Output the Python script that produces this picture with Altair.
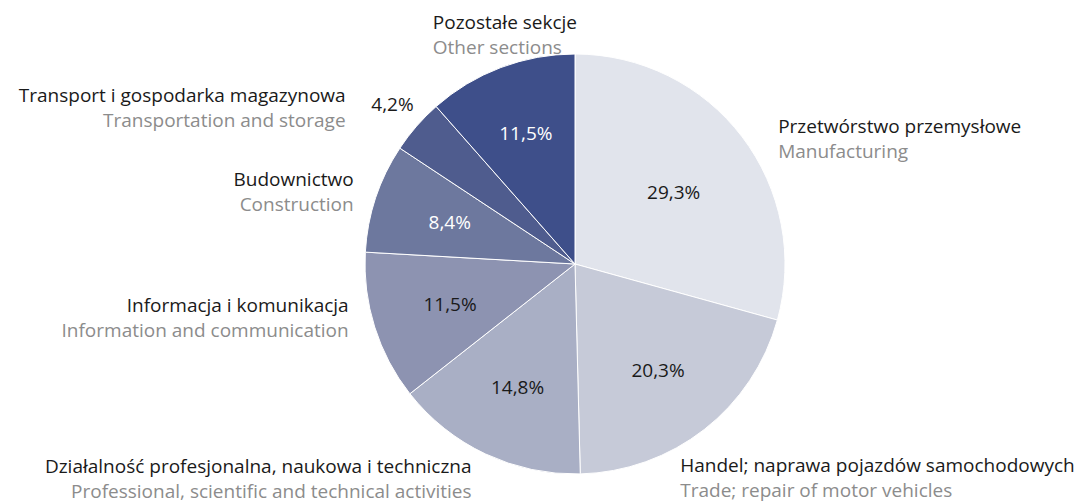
import math
import altair as alt
import pandas as pd

names_pl = ["Przetwórstwo przemysłowe", "Handel; naprawa pojazdów samochodowych",
            "Działalność profesjonalna, naukowa i techniczna", "Informacja i komunikacja",
            "Budownictwo", "Transport i gospodarka magazynowa", "Pozostałe sekcje"]
names_en = ["Manufacturing", "Trade; repair of motor vehicles",
            "Professional, scientific and technical activities", "Information and communication",
            "Construction", "Transportation and storage", "Other sections"]
shares = [29.3, 20.3, 14.8, 11.5, 8.4, 4.2, 11.5]
colors = ["#e1e4ec", "#c6cad8", "#a9afc5", "#8d93b1", "#6d789e", "#4f5c8e", "#3e4f8a"]

df = pd.DataFrame({
    "idx": list(range(len(shares))),
    "pl": names_pl,
    "en": names_en,
    "share": shares,
    "pct": [f"{v:.1f}".replace(".", ",") + "%" for v in shares],
})

FONT = "Open Sans"
FS = 19
CX, CY, R = 567, 256, 210

theta_scale = alt.Scale(domain=[0, 100], range=[0, 2 * math.pi])
color_scale = alt.Scale(domain=names_pl, range=colors)

base = alt.Chart(df).transform_window(
    end="sum(share)", sort=[alt.SortField("idx")], frame=[None, 0]
).transform_calculate(
    start="datum.end - datum.share", mid="datum.end - datum.share / 2"
)

pie = base.mark_arc(stroke="white", strokeWidth=1).encode(
    theta=alt.Theta("start:Q", scale=theta_scale),
    theta2="end:Q",
    color=alt.Color("pl:N", scale=color_scale, legend=None),
    x=alt.value(CX), y=alt.value(CY), radius=alt.value(R),
)

# label style: (radius, dx, dy, align) per slice index
name_pos = {
    0: (R, 36, 3, "left"),
    1: (R, -24, 49, "left"),
    2: (R, -14, 25, "right"),
    3: (R, -26, -9, "right"),
    4: (R, -22, -5, "right"),
    5: (R, -71, -18, "right"),
    6: (R, -68, -32, "left"),
}
# percent label style: (radius, dy, colour)
pct_pos = {
    0: (124, 4, "#1a1a1a"),
    1: (135, 1, "#1a1a1a"),
    2: (135, 2, "#1a1a1a"),
    3: (131, 2, "#1a1a1a"),
    4: (132, 1, "#ffffff"),
    5: (242, 0, "#1a1a1a"),
    6: (139, 0, "#ffffff"),
}

layers = [pie]
for i in range(len(shares)):
    r, dx, dy, align = name_pos[i]
    sub = base.transform_filter(alt.datum.idx == i)
    enc = dict(theta=alt.Theta("mid:Q", scale=theta_scale),
               x=alt.value(CX), y=alt.value(CY), radius=alt.value(r))
    layers.append(sub.mark_text(font=FONT, fontSize=FS, color="#1a1a1a", align=align,
                                baseline="middle", dx=dx, dy=dy - 12.5).encode(text="pl:N", **enc))
    layers.append(sub.mark_text(font=FONT, fontSize=FS, color="#8c8c8c", align=align,
                                baseline="middle", dx=dx, dy=dy + 12.5).encode(text="en:N", **enc))
    pr, pdy, pc = pct_pos[i]
    layers.append(sub.mark_text(font=FONT, fontSize=FS, color=pc, align="center",
                                baseline="middle", dy=pdy).encode(
        text="pct:N", theta=alt.Theta("mid:Q", scale=theta_scale),
        x=alt.value(CX), y=alt.value(CY), radius=alt.value(pr)))

chart = alt.layer(*layers).properties(
    width=1076, height=495, padding=0, autosize=alt.AutoSizeParams(type="none")
).configure_view(stroke=None).resolve_scale(theta="shared")

chart.save("out.html", embed_options={"renderer": "svg", "actions": False})
